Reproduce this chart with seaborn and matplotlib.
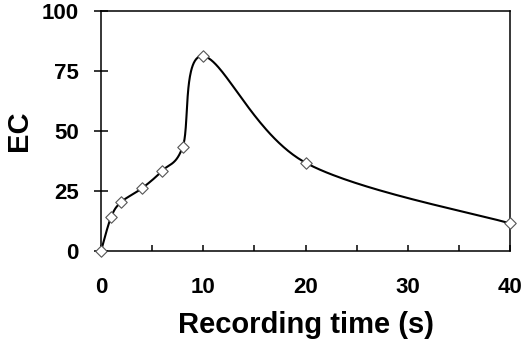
import numpy as np
import pandas as pd
import seaborn as sns
import matplotlib.pyplot as plt

time_s = [0, 1, 2, 4, 6, 8, 10, 20, 40]
ec = [0, 14.3, 20.5, 26.1, 33.5, 43.5, 81.2, 36.8, 11.5]


def smooth_curve(xs, ys, n=60):
    """Excel-like smoothed line: Catmull-Rom style cubic Bezier through points."""
    pts = np.column_stack([xs, ys]).astype(float)
    padded = np.vstack([pts[0], pts, pts[-1]])
    t = np.linspace(0, 1, n)[:, None]
    out = []
    for i in range(1, len(padded) - 2):
        p0, p1, p2, p3 = padded[i - 1], padded[i], padded[i + 1], padded[i + 2]
        c1 = p1 + (p2 - p0) / 6
        c2 = p2 - (p3 - p1) / 6
        seg = ((1 - t) ** 3) * p1 + 3 * ((1 - t) ** 2) * t * c1 \
            + 3 * (1 - t) * t ** 2 * c2 + t ** 3 * p2
        out.append(seg)
    curve = np.vstack(out)
    return pd.DataFrame({"x": curve[:, 0], "y": curve[:, 1]})


df = pd.DataFrame({"Recording time (s)": time_s, "EC": ec})
curve = smooth_curve(time_s, ec)

sns.set_theme(style="ticks")
plt.rcParams["font.family"] = ["Liberation Sans", "DejaVu Sans"]
plt.rcParams["text.color"] = "black"
plt.rcParams["axes.labelcolor"] = "black"

fig = plt.figure(figsize=(5.22, 3.42), dpi=100)
ax = fig.add_axes([0.1935, 0.266, 0.7835, 0.702])

sns.lineplot(data=curve, x="x", y="y", sort=False, estimator=None,
             color="black", linewidth=1.5, ax=ax)
sns.scatterplot(data=df, x="Recording time (s)", y="EC", marker="D", s=34,
                facecolor="white", edgecolor="#555555", linewidth=0.8,
                zorder=3, clip_on=False, ax=ax)

ax.set_xlim(0, 40)
ax.set_ylim(0, 100)
ax.set_xticks([0, 10, 20, 30, 40])
ax.set_xticks([5, 15, 25, 35], minor=True)
ax.set_yticks([0, 25, 50, 75, 100])

for s in ax.spines.values():
    s.set_visible(True)
    s.set_linewidth(1.1)
    s.set_color("black")

ax.tick_params(axis="x", which="both", direction="in", length=4.3, width=1.1,
               pad=19, labelsize=16, colors="black")
ax.tick_params(axis="y", direction="inout", length=10, width=1.1,
               pad=11, labelsize=16, colors="black")
for lab in ax.get_xticklabels() + ax.get_yticklabels():
    lab.set_fontweight("bold")

ax.set_xlabel("Recording time (s)", fontsize=21, fontweight="bold", labelpad=9)
ax.set_ylabel("EC", fontsize=21, fontweight="bold", labelpad=6)

fig.savefig("out.png", dpi=100)
